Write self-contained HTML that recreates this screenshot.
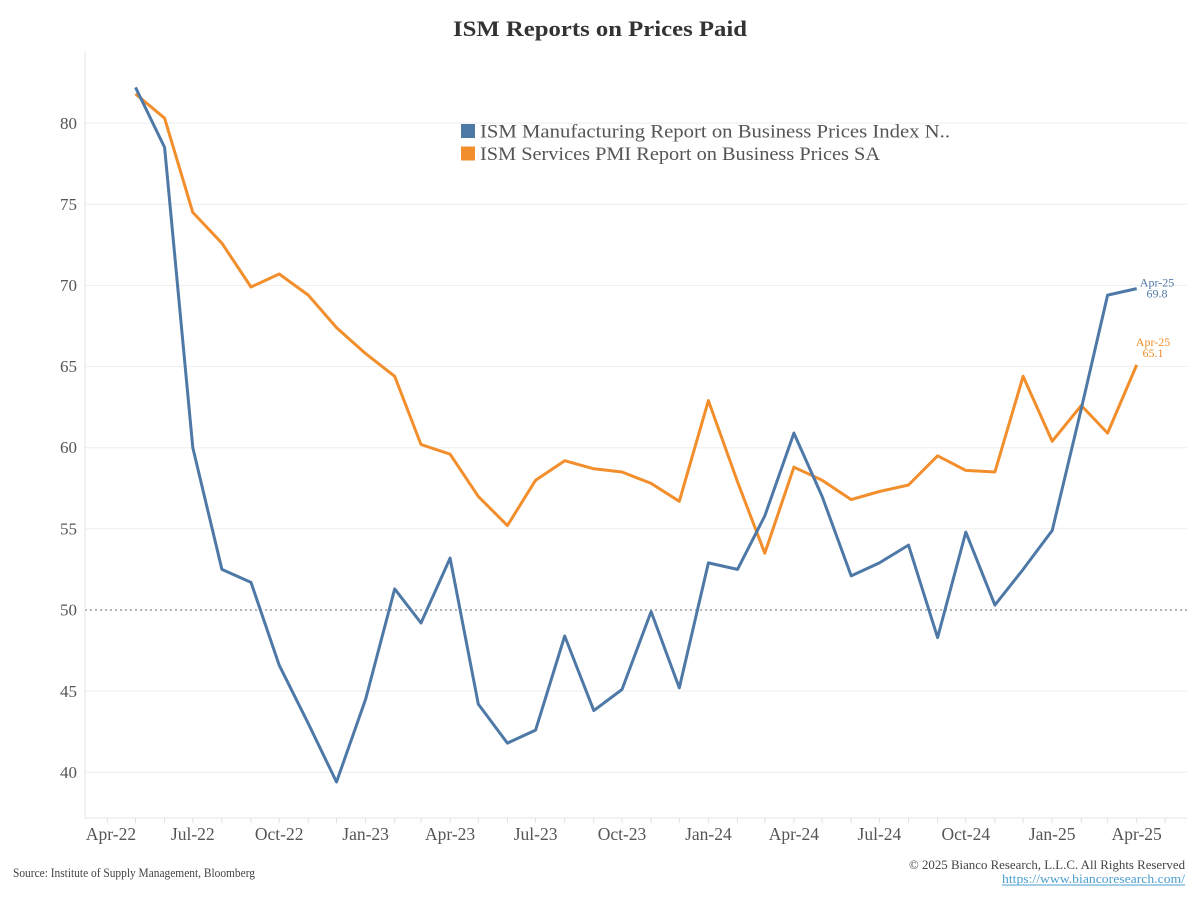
<!DOCTYPE html>
<html>
<head>
<meta charset="utf-8">
<style>
  html, body { margin: 0; padding: 0; background: #ffffff; }
  body { width: 1200px; height: 900px; overflow: hidden; }
  svg { display: block; }
  text { font-family: "Liberation Serif", "DejaVu Serif", serif; }
</style>
</head>
<body>
<svg width="1200" height="900" viewBox="0 0 1200 900" xmlns="http://www.w3.org/2000/svg">
  <rect x="0" y="0" width="1200" height="900" fill="#ffffff"/>

  <!-- Title -->
  <text x="600" y="36" text-anchor="middle" font-size="22" font-weight="bold" fill="#333333" textLength="294" lengthAdjust="spacingAndGlyphs">ISM Reports on Prices Paid</text>

  <!-- Gridlines -->
  <g stroke="#eeeeee" stroke-width="1">
    <line x1="85" y1="123.1" x2="1187" y2="123.1"/>
    <line x1="85" y1="204.3" x2="1187" y2="204.3"/>
    <line x1="85" y1="285.4" x2="1187" y2="285.4"/>
    <line x1="85" y1="366.5" x2="1187" y2="366.5"/>
    <line x1="85" y1="447.7" x2="1187" y2="447.7"/>
    <line x1="85" y1="528.8" x2="1187" y2="528.8"/>
    <line x1="85" y1="691.1" x2="1187" y2="691.1"/>
    <line x1="85" y1="772.3" x2="1187" y2="772.3"/>
  </g>
  <!-- 50 dotted reference line -->
  <line x1="85" y1="610" x2="1187" y2="610" stroke="#9a9a9a" stroke-width="1.5" stroke-dasharray="2,3"/>

  <!-- Axes -->
  <line x1="85" y1="51" x2="85" y2="818" stroke="#e6e6e6" stroke-width="1"/>
  <line x1="85" y1="818" x2="1187" y2="818" stroke="#e6e6e6" stroke-width="1"/>

  <!-- X ticks -->
  <g stroke="#e0e0e0" stroke-width="1">
    <line x1="107.3" y1="818" x2="107.3" y2="823"/>
    <line x1="135.5" y1="818" x2="135.5" y2="823"/>
    <line x1="164.6" y1="818" x2="164.6" y2="823"/>
    <line x1="192.8" y1="818" x2="192.8" y2="823"/>
    <line x1="221.9" y1="818" x2="221.9" y2="823"/>
    <line x1="251.0" y1="818" x2="251.0" y2="823"/>
    <line x1="279.2" y1="818" x2="279.2" y2="823"/>
    <line x1="308.3" y1="818" x2="308.3" y2="823"/>
    <line x1="336.5" y1="818" x2="336.5" y2="823"/>
    <line x1="365.6" y1="818" x2="365.6" y2="823"/>
    <line x1="394.7" y1="818" x2="394.7" y2="823"/>
    <line x1="421.0" y1="818" x2="421.0" y2="823"/>
    <line x1="450.1" y1="818" x2="450.1" y2="823"/>
    <line x1="478.3" y1="818" x2="478.3" y2="823"/>
    <line x1="507.4" y1="818" x2="507.4" y2="823"/>
    <line x1="535.6" y1="818" x2="535.6" y2="823"/>
    <line x1="564.7" y1="818" x2="564.7" y2="823"/>
    <line x1="593.8" y1="818" x2="593.8" y2="823"/>
    <line x1="622.0" y1="818" x2="622.0" y2="823"/>
    <line x1="651.1" y1="818" x2="651.1" y2="823"/>
    <line x1="679.3" y1="818" x2="679.3" y2="823"/>
    <line x1="708.4" y1="818" x2="708.4" y2="823"/>
    <line x1="737.5" y1="818" x2="737.5" y2="823"/>
    <line x1="764.8" y1="818" x2="764.8" y2="823"/>
    <line x1="793.9" y1="818" x2="793.9" y2="823"/>
    <line x1="822.1" y1="818" x2="822.1" y2="823"/>
    <line x1="851.2" y1="818" x2="851.2" y2="823"/>
    <line x1="879.4" y1="818" x2="879.4" y2="823"/>
    <line x1="908.5" y1="818" x2="908.5" y2="823"/>
    <line x1="937.6" y1="818" x2="937.6" y2="823"/>
    <line x1="965.8" y1="818" x2="965.8" y2="823"/>
    <line x1="994.9" y1="818" x2="994.9" y2="823"/>
    <line x1="1023.1" y1="818" x2="1023.1" y2="823"/>
    <line x1="1052.2" y1="818" x2="1052.2" y2="823"/>
    <line x1="1081.3" y1="818" x2="1081.3" y2="823"/>
    <line x1="1107.6" y1="818" x2="1107.6" y2="823"/>
    <line x1="1136.7" y1="818" x2="1136.7" y2="823"/>
    <line x1="1165.1" y1="818" x2="1165.1" y2="823"/>
  </g>

  <!-- Y labels -->
  <g font-size="17" fill="#555555" text-anchor="end">
    <text x="77" y="129">80</text>
    <text x="77" y="210">75</text>
    <text x="77" y="291">70</text>
    <text x="77" y="372">65</text>
    <text x="77" y="453">60</text>
    <text x="77" y="534.5">55</text>
    <text x="77" y="615.5">50</text>
    <text x="77" y="697">45</text>
    <text x="77" y="778">40</text>
  </g>

  <!-- X labels -->
  <g font-size="17.5" fill="#555555" text-anchor="middle">
    <text x="111" y="840">Apr-22</text>
    <text x="192.8" y="840">Jul-22</text>
    <text x="279.2" y="840">Oct-22</text>
    <text x="365.6" y="840">Jan-23</text>
    <text x="450.1" y="840">Apr-23</text>
    <text x="535.6" y="840">Jul-23</text>
    <text x="622.0" y="840">Oct-23</text>
    <text x="708.4" y="840">Jan-24</text>
    <text x="793.9" y="840">Apr-24</text>
    <text x="879.4" y="840">Jul-24</text>
    <text x="965.8" y="840">Oct-24</text>
    <text x="1052.2" y="840">Jan-25</text>
    <text x="1136.7" y="840">Apr-25</text>
  </g>

  <!-- Services series (orange) -->
  <polyline fill="none" stroke="#f28e2b" stroke-width="3" stroke-linejoin="round" stroke-linecap="butt"
    points="135.5,93.9 164.6,118.2 192.8,212.4 221.9,243.2 251.0,287.0 279.2,274.0 308.3,295.1 336.5,327.6 365.6,353.6 394.7,376.3 421.0,444.5 450.1,454.2 478.3,496.4 507.4,525.6 535.6,480.2 564.7,460.7 593.8,468.8 622.0,472.0 651.1,483.4 679.3,501.3 708.4,400.6 737.5,481.8 764.8,553.2 793.9,467.2 822.1,480.2 851.2,499.6 879.4,491.5 908.5,485.0 937.6,455.8 965.8,470.4 994.9,472.0 1023.1,376.3 1052.2,441.2 1081.3,405.5 1107.6,433.1 1136.7,364.9"/>

  <!-- Manufacturing series (blue) -->
  <polyline fill="none" stroke="#4e79a7" stroke-width="3" stroke-linejoin="round" stroke-linecap="butt"
    points="135.5,87.4 164.6,147.4 192.8,447.7 221.9,569.4 251.0,582.4 279.2,665.2 308.3,723.6 336.5,782.0 365.6,699.3 394.7,588.9 421.0,623.0 450.1,558.1 478.3,704.1 507.4,743.1 535.6,730.1 564.7,636.0 593.8,710.6 622.0,689.5 651.1,611.6 679.3,687.9 708.4,562.9 737.5,569.4 764.8,515.9 793.9,433.1 822.1,496.4 851.2,575.9 879.4,562.9 908.5,545.1 937.6,637.6 965.8,532.1 994.9,605.1 1023.1,569.4 1052.2,530.5 1081.3,408.7 1107.6,295.1 1136.7,288.6"/>

  <!-- End annotations -->
  <g font-size="12" text-anchor="middle">
    <text x="1157" y="286.5" fill="#4e79a7">Apr-25</text>
    <text x="1157" y="297.5" fill="#4e79a7">69.8</text>
    <text x="1153" y="346" fill="#f28e2b">Apr-25</text>
    <text x="1153" y="357" fill="#f28e2b">65.1</text>
  </g>

  <!-- Legend -->
  <rect x="461" y="124" width="14" height="14" fill="#4e79a7"/>
  <rect x="461" y="146.5" width="14" height="14" fill="#f28e2b"/>
  <text x="480" y="137.5" font-size="19" fill="#555555" textLength="470" lengthAdjust="spacingAndGlyphs">ISM Manufacturing Report on Business Prices Index N..</text>
  <text x="480" y="160" font-size="19" fill="#555555" textLength="400" lengthAdjust="spacingAndGlyphs">ISM Services PMI Report on Business Prices SA</text>

  <!-- Footer -->
  <text x="13" y="877" font-size="12.5" fill="#444444" textLength="242" lengthAdjust="spacingAndGlyphs">Source: Institute of Supply Management, Bloomberg</text>
  <text x="1185" y="869" font-size="13" fill="#444444" text-anchor="end" textLength="276" lengthAdjust="spacingAndGlyphs">© 2025 Bianco Research, L.L.C. All Rights Reserved</text>
  <text x="1185" y="883" font-size="13" fill="#4a9ed0" text-anchor="end" textLength="183" lengthAdjust="spacingAndGlyphs">https://www.biancoresearch.com/</text>
  <line x1="1002" y1="885" x2="1185" y2="885" stroke="#4a9ed0" stroke-width="1"/>
</svg>
</body>
</html>
